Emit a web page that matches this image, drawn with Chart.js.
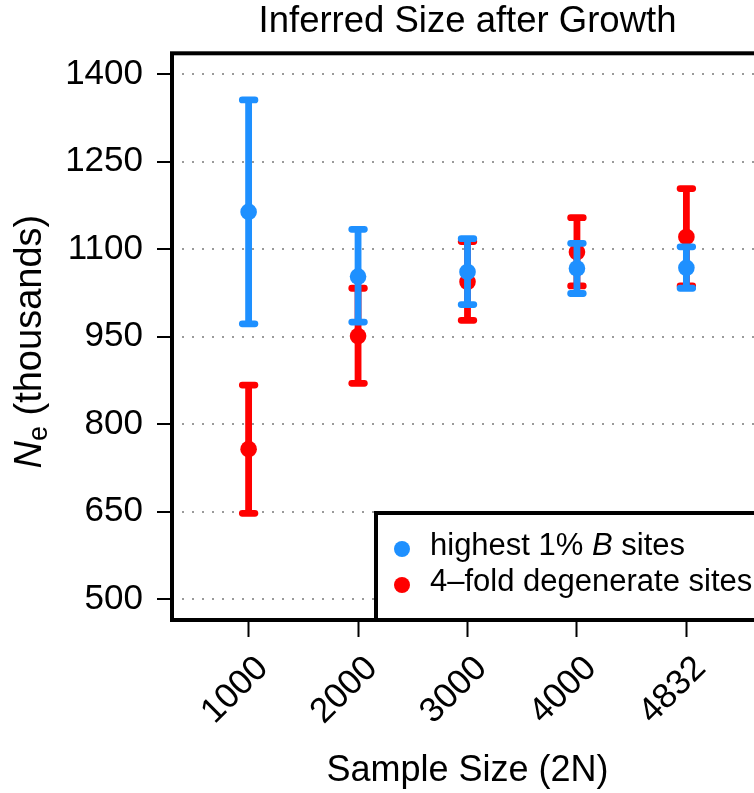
<!DOCTYPE html>
<html>
<head>
<meta charset="utf-8">
<script src="https://cdn.jsdelivr.net/npm/chart.js@4.4.1/dist/chart.umd.min.js"></script>
<style>
  html, body { margin: 0; padding: 0; background: #fff; overflow: hidden; }
  #wrap { width: 800px; height: 793px; }
</style>
</head>
<body>
<div id="wrap"><canvas id="chart" width="800" height="793"></canvas></div>
<script>
// Sample sizes (2N), one column each on the x axis
const sampleSizes = ['1000', '2000', '3000', '4000', '4832'];

// Inferred effective size (thousands): estimate and interval bounds
const highBMean = [1164, 1053, 1061, 1067, 1068];
const highBLow  = [972, 975, 1005, 1024, 1033];
const highBHigh = [1356, 1134, 1118, 1110, 1104];

const fourFoldMean = [757, 951, 1044, 1095, 1121];
const fourFoldLow  = [647, 870, 978, 1037, 1037];
const fourFoldHigh = [867, 1033, 1113, 1154, 1204];

// Y axis tick values
const yTicks = [500, 650, 800, 950, 1100, 1250, 1400];

const BLUE = '#1E90FF';
const RED = '#FF0000';
const FONT = "'Liberation Sans', Arial, Helvetica, sans-serif";

Chart.defaults.font.family = FONT;
Chart.defaults.color = '#000';

const toPoints = (arr) => arr.map((v, i) => ({ x: i + 1, y: v }));

// Vertical interval bars with flat caps, drawn just under each series' points
const errorBars = {
  id: 'errorBars',
  beforeDatasetDraw(chart, args) {
    const ds = chart.data.datasets[args.index];
    if (!ds.errLow) return;
    const { ctx, scales: { x, y } } = chart;
    const half = 6.3;
    ctx.save();
    ctx.strokeStyle = ds.backgroundColor;
    ctx.lineWidth = 6.8;
    ctx.lineCap = 'round';
    ds.errLow.forEach((lo, i) => {
      const px = x.getPixelForValue(i + 1);
      const yl = y.getPixelForValue(lo);
      const yh = y.getPixelForValue(ds.errHigh[i]);
      ctx.beginPath();
      ctx.moveTo(px, yl); ctx.lineTo(px, yh);
      ctx.moveTo(px - half, yl); ctx.lineTo(px + half, yl);
      ctx.moveTo(px - half, yh); ctx.lineTo(px + half, yh);
      ctx.stroke();
    });
    ctx.restore();
  }
};

// Draws a run of [text, italic, size, dy] pieces starting at x
function drawRuns(ctx, runs, x, y) {
  runs.forEach(([t, it, size, dy]) => {
    ctx.font = (it ? 'italic ' : '') + size + 'px ' + FONT;
    ctx.fillText(t, x, y + (dy || 0));
    x += ctx.measureText(t).width;
  });
}
function runsWidth(ctx, runs) {
  let w = 0;
  runs.forEach(([t, it, size]) => {
    ctx.font = (it ? 'italic ' : '') + size + 'px ' + FONT;
    w += ctx.measureText(t).width;
  });
  return w;
}

// Plot frame, y axis title with subscript, and boxed legend
const decorations = {
  id: 'decorations',
  afterDatasetsDraw(chart) {
    const { ctx, chartArea: a } = chart;
    ctx.save();
    ctx.strokeStyle = '#000';
    ctx.lineWidth = 4;
    ctx.strokeRect(a.left, a.top, a.right - a.left, a.bottom - a.top);
    ctx.restore();
  },
  afterDraw(chart) {
    const { ctx, chartArea: a } = chart;

    // y axis title: N_e (thousands)
    const yRuns = [['N', true, 38, 0], ['e', false, 27, 6], [' (thousands)', false, 38, 0]];
    ctx.save();
    ctx.fillStyle = '#000';
    ctx.textBaseline = 'alphabetic';
    ctx.textAlign = 'left';
    const w = runsWidth(ctx, yRuns);
    ctx.translate(41, (a.top + a.bottom) / 2 + 5);
    ctx.rotate(-Math.PI / 2);
    drawRuns(ctx, yRuns, -w / 2, 0);
    ctx.restore();

    // legend box anchored to the bottom-right corner of the plot
    const lx = a.right - 387, ly = a.bottom - 107;
    ctx.save();
    ctx.fillStyle = '#fff';
    ctx.fillRect(lx, ly, a.right - lx, a.bottom - ly);
    ctx.strokeStyle = '#000';
    ctx.lineWidth = 4;
    ctx.strokeRect(lx, ly, a.right - lx, a.bottom - ly);
    ctx.textBaseline = 'alphabetic';
    ctx.textAlign = 'left';
    chart.data.datasets.forEach((ds, i) => {
      const cy = ly + 36 + i * 36;
      ctx.fillStyle = ds.backgroundColor;
      ctx.beginPath();
      ctx.arc(lx + 26, cy, 8, 0, Math.PI * 2);
      ctx.fill();
      ctx.fillStyle = '#000';
      drawRuns(ctx, ds.legendRuns, lx + 54, cy + 6);
    });
    ctx.restore();
  }
};

new Chart(document.getElementById('chart'), {
  type: 'scatter',
  data: {
    datasets: [
      {
        label: 'highest 1% B sites',
        legendRuns: [['highest 1% ', false, 31], ['B', true, 31], [' sites', false, 31]],
        data: toPoints(highBMean),
        errLow: highBLow,
        errHigh: highBHigh,
        backgroundColor: BLUE,
        borderWidth: 0,
        pointRadius: 8.3,
        pointHoverRadius: 8.3
      },
      {
        label: '4\u2013fold degenerate sites',
        legendRuns: [['4\u2013fold degenerate sites', false, 31]],
        data: toPoints(fourFoldMean),
        errLow: fourFoldLow,
        errHigh: fourFoldHigh,
        backgroundColor: RED,
        borderWidth: 0,
        pointRadius: 8.3,
        pointHoverRadius: 8.3
      }
    ]
  },
  options: {
    responsive: false,
    animation: false,
    devicePixelRatio: 1,
    layout: { padding: { top: 0, right: 37, bottom: 0, left: 0 } },
    plugins: {
      legend: { display: false },
      tooltip: { enabled: false },
      title: {
        display: true,
        fullSize: false,
        text: 'Inferred Size after Growth',
        color: '#000',
        font: { size: 36.5, weight: 'normal' },
        padding: { top: 0, bottom: 9.5 }
      }
    },
    scales: {
      x: {
        type: 'linear',
        min: 0.3,
        max: 5.7,
        afterBuildTicks: (s) => { s.ticks = sampleSizes.map((_, i) => ({ value: i + 1 })); },
        afterFit: (s) => { s.height = 173; },
        ticks: {
          autoSkip: false,
          minRotation: 45,
          maxRotation: 45,
          labelOffset: 14,
          padding: 11,
          color: '#000',
          font: { size: 35 },
          callback: (v) => sampleSizes[v - 1]
        },
        grid: {
          drawOnChartArea: false,
          drawTicks: true,
          tickLength: 17,
          tickWidth: 2,
          tickColor: '#000'
        },
        border: { display: false },
        title: {
          display: true,
          text: 'Sample Size (2N)',
          color: '#000',
          font: { size: 36 },
          padding: { top: 0, bottom: 0 }
        }
      },
      y: {
        type: 'linear',
        min: 464,
        max: 1436,
        afterBuildTicks: (s) => { s.ticks = yTicks.map((v) => ({ value: v })); },
        afterFit: (s) => { s.width = 172; },
        ticks: {
          padding: 14,
          color: '#000',
          font: { size: 35 },
          callback: (v) => String(v)
        },
        grid: {
          color: '#9a9a9a',
          lineWidth: 2,
          drawTicks: true,
          tickLength: 15,
          tickWidth: 2,
          tickColor: '#000',
          tickBorderDash: []
        },
        border: { display: false, dash: [2, 8] }
      }
    }
  },
  plugins: [errorBars, decorations]
});
</script>
</body>
</html>
